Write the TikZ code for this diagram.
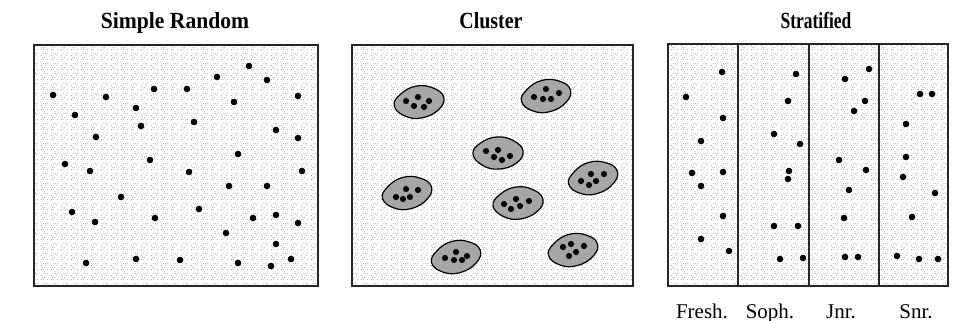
\documentclass[tikz,border=0pt]{standalone}
\usepackage{fontspec}
\setmainfont{Liberation Serif}
\usetikzlibrary{patterns.meta}

% fine speckle used as the population background
\tikzdeclarepattern{
  name=speckle,
  type=uncolored,
  bounding box={(0pt,0pt) and (10pt,10pt)},
  tile size={(10pt,10pt)},
  code={
    \foreach \q in {(1.5pt,1.5pt),(3.5pt,2pt),(2.5pt,4pt),(5pt,3.5pt),(1.5pt,6pt),
                    (7pt,6.5pt),(8pt,1.5pt),(6pt,8.5pt),(8.5pt,8.5pt),(3.5pt,8pt)}
      \fill \q circle (0.42pt);
  }
}

\begin{document}
\begin{tikzpicture}[x=1pt,y=-1pt,
  frame/.style={line width=1.4pt, draw=black!85, pattern=speckle, pattern color=black!55},
  divider/.style={line width=1.3pt, draw=black!85},
  unit/.style={fill=black},
  title/.style={font=\bfseries\fontsize{21}{21}\selectfont, anchor=base, inner sep=0pt},
  stratum/.style={font=\fontsize{21}{21}\selectfont, anchor=base, inner sep=0pt},
  blobline/.style={line width=1.2pt, draw=black, fill=black!35},
  pics/cellblob/.style={code={
    \draw[blobline] plot[smooth cycle, tension=0.75] coordinates
      {(-25,2) (-18,-9) (-2,-16) (15,-13) (25,-3) (19,9) (2,16) (-15,13)};
  }}
]
\useasboundingbox (0,0) rectangle (958,321);

% ---------- titles ----------
\node[title] (tsimple) at (175,29) {\scalebox{1.03}[1.1]{Simple Random}};
\node[title] (tcluster) at (491,29) {\scalebox{0.95}[1.1]{Cluster}};
\node[title] (tstrat) at (816,29) {\scalebox{0.83}[1.1]{Stratified}};

% ---------- simple random sample ----------
\draw[frame] (34,45) rectangle (318,286);
\foreach \p in {(53,95),(106,97),(154,89),(187,89),(217,77),(249,66),(267,80),(298,96),
                (75,115),(136,108),(234,102),(141,126),(194,122),(96,137),(276,130),(298,138),
                (65,164),(150,160),(238,154),(90,171),(189,172),(302,171),(229,186),(267,186),
                (121,197),(72,212),(199,209),(95,222),(155,218),(253,218),(276,215),(298,223),
                (226,233),(276,244),(86,263),(136,259),(180,260),(238,263),(271,266),(291,259)}
  \fill[unit] \p circle (3.3pt);

% ---------- cluster sample ----------
\draw[frame] (352,45) rectangle (633,286);
\pic[rotate=4]  at (419,102) {cellblob};
\pic[rotate=8]  at (546,96)  {cellblob};
\pic[rotate=-3] at (498,153) {cellblob};
\pic[rotate=10] at (593,178) {cellblob};
\pic[rotate=8]  at (407,193) {cellblob};
\pic[rotate=2]  at (518,203) {cellblob};
\pic[rotate=9]  at (456,257) {cellblob};
\pic[rotate=8]  at (573,250) {cellblob};
\foreach \p in {(406,101),(418,97),(429,101),(414,106),(424,107),
                (546,89),(534,97),(543,99),(551,99),(559,93),
                (486,151),(498,150),(494,157),(502,160),(510,156),
                (591,174),(604,174),(581,181),(596,181),(589,185),
                (406,189),(418,190),(396,197),(403,199),(410,197),
                (516,199),(529,201),(504,204),(511,209),(520,206),
                (456,252),(445,258),(454,260),(462,260),(467,256),
                (571,244),(563,247),(584,246),(576,252),(569,256)}
  \fill[unit] \p circle (3.1pt);

% ---------- stratified sample ----------
\draw[frame] (668,44) rectangle (948,286);
\foreach \x in {738,809,879}
  \draw[divider] (\x,44) -- (\x,286);
\foreach \p in {(722,72),(686,97),(723,118),(701,141),(692,173),(723,172),(701,186),(723,216),(701,239),(729,251),
                (796,74),(788,101),(774,134),(800,144),(789,171),(788,179),(774,226),(798,226),(780,259),(803,258),
                (869,69),(845,79),(865,101),(854,111),(839,160),(866,170),(849,190),(844,218),(845,257),(858,257),
                (920,94),(932,94),(906,124),(906,157),(903,177),(935,193),(912,217),(897,256),(919,259),(938,259)}
  \fill[unit] \p circle (3.3pt);

\node[stratum] (fresh) at (702,318) {Fresh.};
\node[stratum] (soph)  at (770,318) {Soph.};
\node[stratum] (jnr)   at (841,318) {Jnr.};
\node[stratum] (snr)   at (916,318) {Snr.};
\end{tikzpicture}
\end{document}
